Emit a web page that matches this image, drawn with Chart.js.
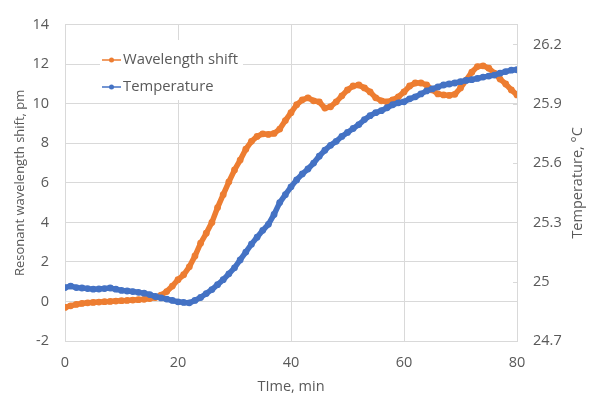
<!DOCTYPE html>
<html>
<head>
<meta charset="utf-8">
<script src="https://cdn.jsdelivr.net/npm/chart.js@4/dist/chart.umd.min.js"></script>
<style>
html,body{margin:0;padding:0;background:#fff;}
#wrap{width:597px;height:396px;position:relative;}
</style>
</head>
<body>
<div id="wrap"><canvas id="c" width="597" height="396"></canvas></div>
<script>
const timeMin = [0,1,2,3,4,5,6,7,8,9,10,11,12,13,14,15,16,17,18,19,20,21,22,23,24,25,26,27,28,29,30,31,32,33,34,35,36,37,38,39,40,41,42,43,44,45,46,47,48,49,50,51,52,53,54,55,56,57,58,59,60,61,62,63,64,65,66,67,68,69,70,71,72,73,74,75,76,77,78,79,80];
const wavelengthShift = [-0.3,-0.22,-0.15,-0.1,-0.07,-0.05,-0.03,-0.01,0.0,0.02,0.04,0.05,0.07,0.09,0.11,0.15,0.2,0.32,0.5,0.78,1.1,1.35,1.75,2.3,2.95,3.45,4.0,4.75,5.4,6.05,6.65,7.15,7.7,8.1,8.35,8.48,8.45,8.5,8.72,9.15,9.55,9.95,10.2,10.3,10.15,10.1,9.78,9.85,10.1,10.4,10.7,10.9,10.95,10.8,10.6,10.3,10.15,10.1,10.2,10.35,10.6,10.9,11.05,11.05,10.95,10.7,10.5,10.45,10.42,10.48,10.8,11.2,11.6,11.88,11.92,11.8,11.55,11.25,11.0,10.7,10.45];
const temperature = [24.97,24.978,24.97,24.968,24.965,24.962,24.963,24.965,24.968,24.962,24.956,24.953,24.95,24.946,24.942,24.935,24.925,24.918,24.912,24.905,24.898,24.895,24.893,24.905,24.92,24.94,24.96,24.985,25.01,25.04,25.07,25.11,25.15,25.19,25.225,25.26,25.29,25.34,25.40,25.44,25.48,25.515,25.545,25.57,25.6,25.635,25.665,25.69,25.71,25.735,25.755,25.775,25.795,25.82,25.84,25.855,25.865,25.88,25.895,25.905,25.91,25.925,25.935,25.95,25.965,25.975,25.985,25.995,26.0,26.005,26.012,26.018,26.022,26.028,26.035,26.04,26.045,26.055,26.063,26.07,26.072];
const xTicks = [0,20,40,60,80];
const leftTicks = [-2,0,2,4,6,8,10,12,14];
const rightTicks = [24.7,25.0,25.3,25.6,25.9,26.2];
const seriesNames = ['Wavelength shift','Temperature'];
const seriesColors = ['#ED7D31','#4472C4'];
const rightTitle = 'Temperature, °C';

const FONT = "'Open Sans', sans-serif";
const TXT = '#595959';
const GRID = '#d9d9d9';

const legendPlugin = {
  id: 'insideLegend',
  beforeDatasetsDraw(chart) {
    const ctx = chart.ctx;
    const a = chart.chartArea;
    const s2 = chart.scales.y2;
    ctx.save();
    // small inner tick marks on the right axis
    ctx.strokeStyle = GRID;
    ctx.lineWidth = 1;
    rightTicks.forEach(v => {
      const y = Math.round(s2.getPixelForValue(v)) + 0.5;
      ctx.beginPath(); ctx.moveTo(a.right - 4, y); ctx.lineTo(a.right, y); ctx.stroke();
    });
    ctx.fillStyle = '#fff';
    ctx.fillRect(100, 40, 143, 60);
    const rows = [60, 87];
    seriesNames.forEach((name, i) => {
      const y = rows[i];
      ctx.strokeStyle = seriesColors[i];
      ctx.lineWidth = 1.5;
      ctx.beginPath(); ctx.moveTo(102, y); ctx.lineTo(121, y); ctx.stroke();
      ctx.fillStyle = seriesColors[i];
      ctx.beginPath(); ctx.arc(111.5, y, 2.5, 0, Math.PI*2); ctx.fill();
      ctx.fillStyle = TXT;
      ctx.font = "14.8px " + FONT;
      ctx.textBaseline = 'middle';
      ctx.textAlign = 'left';
      ctx.fillText(name, 123, y);
    });
    ctx.restore();
  },
  afterDraw(chart) {
    const ctx = chart.ctx;
    const a = chart.chartArea;
    ctx.save();
    ctx.translate(578, (a.top + a.bottom) / 2);
    ctx.rotate(-Math.PI / 2);
    ctx.fillStyle = TXT;
    ctx.font = "14.5px " + FONT;
    ctx.textAlign = 'center';
    ctx.textBaseline = 'middle';
    ctx.fillText(rightTitle, 0, 0);
    ctx.restore();
  }
};

new Chart(document.getElementById('c'), {
  type: 'line',
  data: {
    datasets: [
      {
        label: seriesNames[0],
        data: timeMin.map((t, i) => ({x: t, y: wavelengthShift[i]})),
        borderColor: seriesColors[0], backgroundColor: seriesColors[0],
        borderWidth: 5.5, pointRadius: 3.4, pointBorderWidth: 0,
        yAxisID: 'y', order: 1, tension: 0
      },
      {
        label: seriesNames[1],
        data: timeMin.map((t, i) => ({x: t, y: temperature[i]})),
        borderColor: seriesColors[1], backgroundColor: seriesColors[1],
        borderWidth: 5.5, pointRadius: 3.4, pointBorderWidth: 0,
        yAxisID: 'y2', order: 0, tension: 0
      }
    ]
  },
  options: {
    responsive: false, animation: false, devicePixelRatio: 1,
    layout: {padding: {top: 17, left: 0, right: 0, bottom: 0}},
    plugins: {legend: {display: false}, tooltip: {enabled: false}},
    scales: {
      x: {
        type: 'linear', min: 0, max: 80,
        afterBuildTicks: s => { s.ticks = xTicks.map(v => ({value: v})); },
        afterFit: s => { s.height = 55; },
        grid: {color: GRID, drawTicks: false, lineWidth: 1},
        border: {display: true, color: GRID},
        ticks: {color: TXT, font: {family: FONT, size: 14.5}, padding: 13, maxRotation: 0},
        title: {display: true, text: 'TIme, min', color: TXT, font: {family: FONT, size: 14.5}, padding: {top: 0, bottom: 0}}
      },
      y: {
        type: 'linear', position: 'left', min: -2, max: 14,
        afterBuildTicks: s => { s.ticks = leftTicks.map(v => ({value: v})); },
        afterFit: s => { s.width = 65; },
        grid: {color: GRID, drawTicks: false, lineWidth: 1},
        border: {display: true, color: GRID},
        ticks: {color: TXT, font: {family: FONT, size: 14.5}, padding: 16},
        title: {display: true, text: 'Resonant wavelength shift, pm', color: TXT, font: {family: FONT, size: 13}, padding: {top: 12, bottom: 0}}
      },
      y2: {
        type: 'linear', position: 'right', min: 24.7, max: 26.3,
        afterBuildTicks: s => { s.ticks = rightTicks.map(v => ({value: v})); },
        afterFit: s => { s.width = 80; },
        grid: {drawOnChartArea: false, drawTicks: false},
        border: {display: true, color: GRID},
        ticks: {color: TXT, font: {family: FONT, size: 14.5}, padding: 16,
          callback: v => String(Number(v.toFixed(1)))},
        title: {display: false}
      }
    }
  },
  plugins: [legendPlugin]
});
</script>
</body>
</html>
